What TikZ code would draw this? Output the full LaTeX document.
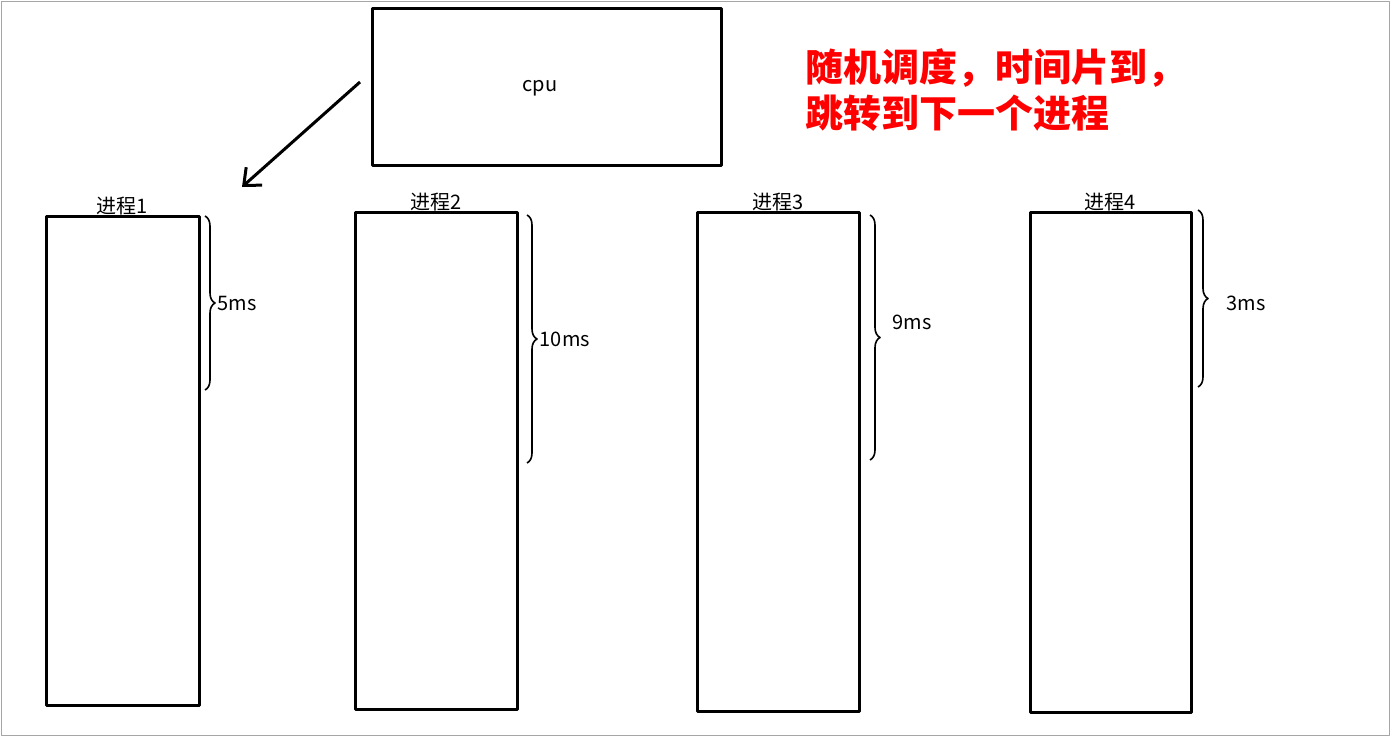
\documentclass[tikz,border=0pt]{standalone}
\usepackage{fontspec}
\setmainfont{Noto Sans CJK SC}
\usetikzlibrary{decorations.pathreplacing,arrows.meta}
\tikzset{
  procbox/.style={draw,line width=3pt},
  timebrace/.style={draw,line width=1.6pt,decorate,decoration={brace,amplitude=10pt}},
  plabel/.style={font=\fontsize{20pt}{22pt}\selectfont,inner sep=0pt}
}
\begin{document}
\begin{tikzpicture}[x=1pt,y=-1pt,line join=round]
\useasboundingbox (0,0) rectangle (1391,737);
\draw[gray!70,line width=1pt] (1,1) rectangle (1389,735);

% cpu
\node[procbox,minimum width=349pt,minimum height=157pt] (cpu) at (546.5,86.5) {};
\node[plabel] (cputext) at (540,88) {cpu};
\coordinate (arrowtail) at (360,82);
\coordinate (arrowhead) at (242,187);
\draw[line width=3pt,-{Straight Barb[length=14pt,width=24pt]}] (arrowtail) -- (arrowhead);

% note
\node[text=red,font=\fontsize{38pt}{46pt}\selectfont\bfseries,anchor=north west,align=left,inner sep=0pt] (note) at (805,48)
  {随机调度，时间片到，\\跳转到下一个进程};

% processes
\foreach \i/\xa/\ya/\xb/\yb in {1/46/216/199/705, 2/355/212/517/709, 3/697/212/859/711, 4/1030/212/1191/712}{
  \draw[procbox] (\xa,\ya) rectangle (\xb,\yb);
  \node[plabel,anchor=south] (p\i) at ({(\xa+\xb)/2},{\ya-1}) {进程\i};
}

% time slices
\draw[timebrace] (205,216) -- node[plabel,right=12pt] (t1) {5ms} (205,390);
\draw[timebrace] (527,215) -- node[plabel,right=12pt] (t2) {10ms} (527,463);
\draw[timebrace] (870,215) -- node[plabel,right=22pt,yshift=15pt] (t3) {9ms} (870,460);
\draw[timebrace] (1198,210) -- node[plabel,right=28pt,yshift=-5pt] (t4) {3ms} (1198,387);
\end{tikzpicture}
\end{document}
